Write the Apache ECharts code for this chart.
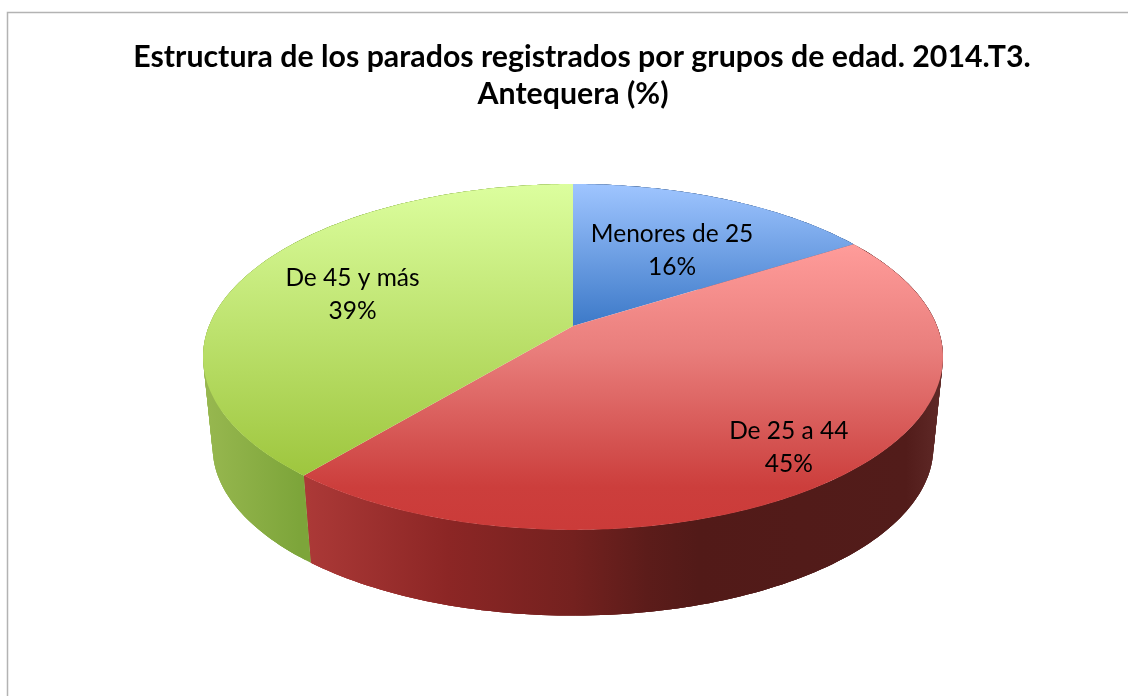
<!doctype html>
<html lang="es">
<head>
    <meta charset="UTF-8">
    <title>Estructura de los parados</title>
    <style>
        * {
            margin: 0;
            padding: 0;
        }

        body {
            background: #fff;
        }

        #chart {
            width: 1128px;
            height: 696px;
        }
    </style>
</head>
<body>
<div id="chart"></div>
<script src="https://cdn.jsdelivr.net/npm/echarts@6/dist/echarts.min.js"></script>
<script type="application/javascript">
    const titleLines = ['Estructura de los parados registrados por grupos de edad. 2014.T3.', 'Antequera (%)'];
    const categories = ['Menores de 25', 'De 25 a 44', 'De 45 y más'];
    const values = [16, 45, 39];

    // perspective disc: apex of the slices on the top face, projected
    const apexX = 573, apexY = 326;
    const scaleX = 364, scaleY = 167.4, persp = 0.179;
    // the lower face sits further from the camera
    const lowerY = 417, lowerScale = 0.974;
    const labelRadius = [0.62, 0.8, 0.67];
    const labelDy = [7, 9, 5];

    const topStops = [
        [[0, '#9fc5ff'], [1, '#3c79c8']],
        [[0, '#ff9c9a'], [0.37, '#e97e7c'], [0.7, '#d45250'], [0.85, '#cc3e3c'], [1, '#cb3b39']],
        [[0, '#dcfe9e'], [1, '#9ec63e']]
    ];
    // side gradients run left to right over the whole pie
    const sideStops = [
        [[0, '#3c5f8f'], [1, '#3c5f8f']],
        [[0, '#7c2220'], [0.13, '#ad3a38'], [0.33, '#8c2625'], [0.5, '#74211f'], [0.6, '#5c1c1a'], [0.67, '#521a18'], [0.95, '#521c1a'], [1, '#602a28']],
        [[0, '#98b850'], [0.13, '#7da53a'], [1, '#7da53a']]
    ];

    const angleOf = function (index) {
        const total = values.reduce((a, b) => a + b, 0);
        let sum = 0;
        for (let i = 0; i < index; i++) {
            sum += values[i];
        }
        return sum / total * Math.PI * 2;
    }

    const topPoint = function (angle, r = 1) {
        const u = r * Math.sin(angle), v = -r * Math.cos(angle);
        const s = 1 / (1 - persp * v);
        return [apexX + scaleX * u * s, apexY + scaleY * v * s];
    }

    const lowPoint = function (angle) {
        const u = Math.sin(angle), v = -Math.cos(angle);
        const s = lowerScale / (1 - persp * v);
        return [apexX + scaleX * u * s, lowerY + scaleY * v * s];
    }

    const arcAngles = function (i, step) {
        const a0 = angleOf(i), a1 = angleOf(i + 1);
        const steps = Math.ceil((a1 - a0) / step);
        const out = [];
        for (let k = 0; k <= steps; k++) {
            out.push(a0 + (a1 - a0) * k / steps);
        }
        return out;
    }

    const gradient = function (x, y, x2, y2, stops, global) {
        return {
            type: 'linear', x: x, y: y, x2: x2, y2: y2, global: global,
            colorStops: stops.map(s => ({offset: s[0], color: s[1]}))
        };
    }

    // side wall as strips that overlap their neighbour, so no seams show
    const renderSide = function (params) {
        const i = params.dataIndex;
        const angles = arcAngles(i, 0.02);
        const fill = gradient(203, 0, 943, 0, sideStops[i], true);
        const strips = [];
        for (let k = 0; k < angles.length - 1; k++) {
            const a = angles.slice(k, k + 4);
            strips.push({
                type: 'polygon',
                shape: {points: a.map(t => topPoint(t)).concat(a.slice().reverse().map(t => lowPoint(t)))},
                style: {fill: fill}
            });
        }
        return {type: 'group', children: strips};
    }

    const renderTop = function (params) {
        const i = params.dataIndex;
        const points = [[apexX, apexY]].concat(arcAngles(i, 0.01).map(a => topPoint(a)));
        const ys = points.map(p => p[1]);
        const mid = (angleOf(i) + angleOf(i + 1)) / 2;
        const pos = topPoint(mid, labelRadius[i]);
        return {
            type: 'group',
            children: [
                {
                    type: 'polygon',
                    shape: {points: points},
                    style: {fill: gradient(0, Math.min(...ys), 0, Math.max(...ys), topStops[i], true)}
                },
                {
                    type: 'text',
                    z2: 10,
                    x: pos[0],
                    y: pos[1] + labelDy[i],
                    style: {
                        text: categories[i] + '\n' + values[i] + '%',
                        fill: '#000',
                        font: '24.5px Lato',
                        lineHeight: 33,
                        align: 'center',
                        verticalAlign: 'middle'
                    }
                }
            ]
        };
    }

    const chart = echarts.init(document.getElementById('chart'), null, {renderer: 'canvas'});
    chart.setOption({
        animation: false,
        backgroundColor: '#fff',
        title: [
            {
                text: titleLines[0], left: 577, top: 37, textAlign: 'center',
                textStyle: {fontFamily: 'Lato', fontWeight: 'bold', fontSize: 30.3, color: '#000'}
            },
            {
                text: titleLines[1], left: 568, top: 74, textAlign: 'center',
                textStyle: {fontFamily: 'Lato', fontWeight: 'bold', fontSize: 30.3, color: '#000'}
            }
        ],
        graphic: [
            {
                type: 'polyline',
                silent: true,
                shape: {points: [[7.5, 696], [7.5, 12.5], [1128, 12.5]]},
                style: {fill: null, stroke: '#b3b3b3', lineWidth: 1.5}
            }
        ],
        series: [
            {type: 'custom', coordinateSystem: 'none', z: 1, silent: true, data: values, renderItem: renderSide},
            {type: 'custom', coordinateSystem: 'none', z: 2, silent: true, data: values, renderItem: renderTop}
        ]
    });
</script>
</body>
</html>
